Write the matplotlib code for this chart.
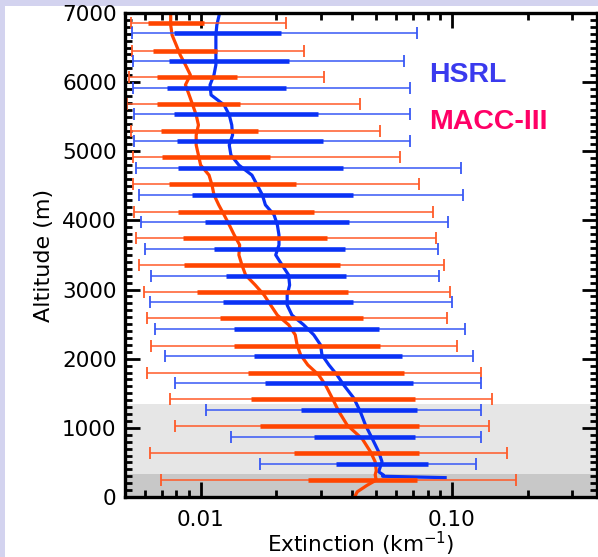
import matplotlib
matplotlib.use('Agg')
import matplotlib.pyplot as plt
from matplotlib.patches import Rectangle
from matplotlib.ticker import FixedLocator, LogLocator, NullFormatter, MultipleLocator

# ---------------- data ----------------
# MACC-III mean extinction profile (altitude m, extinction km^-1)
macc_alt = [0, 75, 170, 245, 320, 380, 510, 655, 840, 1040, 1235, 1430, 1620, 1765,
            1910, 2055, 2200, 2345, 2490, 2630, 2775, 2920, 3065, 3210, 3355, 3500,
            3645, 3790, 3935, 4080, 4225, 4370, 4510, 4655, 4800, 4945, 5090, 5235,
            5380, 5525, 5670, 5815, 5960, 6105, 6250, 6390, 6535, 6680, 6825, 7000]
macc_ext = [0.041, 0.042, 0.046, 0.050, 0.0495, 0.050, 0.0495, 0.0474, 0.044, 0.0383,
            0.0355, 0.0334, 0.0314, 0.0295, 0.0267, 0.0250, 0.0242, 0.0238, 0.0224,
            0.0202, 0.0190, 0.0179, 0.0165, 0.0151, 0.0146, 0.0142, 0.0143, 0.0136,
            0.0130, 0.0124, 0.0118, 0.0113, 0.0111, 0.0108, 0.0100, 0.0098, 0.0096,
            0.0096, 0.0098, 0.0096, 0.0093, 0.0090, 0.0087, 0.0091, 0.0087, 0.0083,
            0.0080, 0.0077, 0.0076, 0.0076]

# HSRL mean extinction profile
hsrl_alt = [280, 300, 318, 365, 510, 655, 850, 1040, 1235, 1430, 1620, 1765, 1910, 2055,
            2200, 2345, 2490, 2630, 2775, 2920, 3065, 3210, 3355, 3500, 3645, 3790,
            3935, 4080, 4225, 4370, 4510, 4655, 4800, 4945, 5090, 5235, 5380, 5525,
            5670, 5815, 5960, 6105, 6250, 6390, 6535, 6680, 6825, 7000]
hsrl_ext = [0.094, 0.053, 0.0534, 0.0511, 0.0527, 0.0511, 0.0481, 0.0453, 0.0432, 0.0407,
            0.0371, 0.0349, 0.0324, 0.0304, 0.0300, 0.0282, 0.0257, 0.0231, 0.0221,
            0.0221, 0.0226, 0.0224, 0.0211, 0.0199, 0.0205, 0.0205, 0.0202, 0.0196,
            0.0181, 0.0176, 0.0168, 0.0160, 0.0142, 0.0132, 0.0130, 0.0134, 0.0133,
            0.0130, 0.0124, 0.0110, 0.0109, 0.0113, 0.0115, 0.0115, 0.0115, 0.0115,
            0.0116, 0.0119]

# MACC-III binned statistics (whisker low, box low, box high, whisker high)
macc_bin_alt = [250, 635, 1025, 1415, 1800, 2190, 2585, 2970, 3355, 3740, 4125, 4525,
                4920, 5300, 5685, 6070, 6455, 6850]
macc_wlo = [0.00694, 0.00627, 0.00788, 0.00755, 0.00610, 0.00637, 0.00614, 0.00595,
            0.00569, 0.00552, 0.00543, 0.00538, 0.00538, 0.00527, 0.00508, 0.00518,
            0.00535, 0.00527]
macc_blo = [0.0268, 0.0235, 0.0172, 0.0159, 0.0154, 0.0136, 0.0119, 0.00964, 0.00858,
            0.00854, 0.00813, 0.00748, 0.00705, 0.00698, 0.00669, 0.00669, 0.00649,
            0.00619]
macc_bhi = [0.0726, 0.0737, 0.0737, 0.0715, 0.0642, 0.0519, 0.0443, 0.0386, 0.0360,
            0.0319, 0.0282, 0.0239, 0.0189, 0.0169, 0.0144, 0.0139, 0.0116, 0.0103]
macc_whi = [0.180, 0.165, 0.141, 0.144, 0.130, 0.105, 0.0955, 0.0985, 0.0926, 0.0864,
            0.0840, 0.0742, 0.0623, 0.0519, 0.0430, 0.0311, 0.0257, 0.0218]

# HSRL binned statistics
hsrl_bin_alt = [477, 872, 1258, 1644, 2044, 2430, 2816, 3201, 3587, 3982, 4368, 4763,
                5149, 5535, 5920, 6306, 6706]
hsrl_wlo = [0.0172, 0.0132, 0.0105, 0.00788, 0.00722, 0.00656, 0.00629, 0.00637,
            0.00601, 0.00578, 0.00569, 0.00552, 0.00543, 0.00543, 0.00540, 0.00540,
            0.00535]
hsrl_blo = [0.0347, 0.0282, 0.0250, 0.0180, 0.0163, 0.0136, 0.0123, 0.0126, 0.0113,
            0.0104, 0.00927, 0.00816, 0.00803, 0.00783, 0.00737, 0.00748, 0.00783]
hsrl_bhi = [0.0800, 0.0715, 0.0726, 0.0697, 0.0633, 0.0511, 0.0403, 0.0379, 0.0374,
            0.0391, 0.0403, 0.0369, 0.0307, 0.0292, 0.0218, 0.0224, 0.0208]
hsrl_whi = [0.125, 0.130, 0.130, 0.130, 0.121, 0.113, 0.100, 0.0885, 0.0877, 0.0969,
            0.111, 0.109, 0.0683, 0.0683, 0.0683, 0.0642, 0.0726]

# shaded altitude layers (m)
layer_dark = (0, 330)
layer_light = (330, 1350)

x_ticks = [0.01, 0.1]
x_ticklabels = ['0.01', '0.10']
y_ticks = [0, 1000, 2000, 3000, 4000, 5000, 6000, 7000]

# ---------------- styling ----------------
ORANGE = '#ff4500'
ORANGE_THIN = '#ff5a28'
BLUE = '#0a32f5'
BLUE_THIN = '#3858f5'

W, H = 598, 557
fig = plt.figure(figsize=(W / 100, H / 100), dpi=100)
fig.patch.set_facecolor('#d3d3ef')
fig.patches.append(Rectangle((5 / W, 0), (W - 5) / W, (H - 6) / H,
                             transform=fig.transFigure, facecolor='white',
                             edgecolor='none', zorder=-10))

ax = fig.add_axes([125 / W, (H - 497) / H, (597 - 125) / W, (497 - 13) / H])
ax.set_zorder(1)
ax.set_facecolor('white')
ax.set_xscale('log')
ax.set_xlim(0.005, 0.378)
ax.set_ylim(0, 7000)

ax.axhspan(*layer_dark, color='#c8c8c8', zorder=0.5, lw=0)
ax.axhspan(*layer_light, color='#e6e6e6', zorder=0.5, lw=0)

# profile lines
ax.plot(hsrl_ext, hsrl_alt, color=BLUE, lw=2.3, zorder=2)
ax.plot(macc_ext, macc_alt, color=ORANGE, lw=2.3, zorder=2)


def draw_bars(alt, wlo, blo, bhi, whi, c_thick, c_thin):
    ax.hlines(alt, wlo, whi, color=c_thin, lw=1.1, zorder=3)
    ax.plot(wlo, alt, ls='none', marker='|', ms=8, mew=1.3, color=c_thin, zorder=3)
    ax.plot(whi, alt, ls='none', marker='|', ms=8, mew=1.3, color=c_thin, zorder=3)
    ax.hlines(alt, blo, bhi, color=c_thick, lw=3.3, zorder=3.5)


draw_bars(macc_bin_alt, macc_wlo, macc_blo, macc_bhi, macc_whi, ORANGE, ORANGE_THIN)
draw_bars(hsrl_bin_alt, hsrl_wlo, hsrl_blo, hsrl_bhi, hsrl_whi, BLUE, BLUE_THIN)

# axes / ticks
for s in ax.spines.values():
    s.set_linewidth(2.4)
    s.set_zorder(5)
ax.xaxis.set_major_locator(FixedLocator(x_ticks))
ax.set_xticklabels(x_ticklabels)
ax.xaxis.set_minor_locator(LogLocator(base=10, subs=range(2, 10), numticks=20))
ax.xaxis.set_minor_formatter(NullFormatter())
ax.yaxis.set_major_locator(FixedLocator(y_ticks))
ax.yaxis.set_minor_locator(MultipleLocator(100))
ax.tick_params(which='both', direction='in', top=True, right=True, width=2.0,
               labelsize=15.5, color='black')
ax.tick_params(which='major', length=10.5)
ax.tick_params(which='minor', length=5)
ax.tick_params(axis='x', which='major', pad=9)
ax.tick_params(axis='y', which='major', pad=6)

ax.set_xlabel('Extinction (km$^{-1}$)', fontsize=15.5, labelpad=0)
ax.set_ylabel('Altitude (m)', fontsize=16, labelpad=6)

ax.text(0.645, 0.872, 'HSRL', transform=ax.transAxes, color='#3a3aee',
        fontsize=20.5, fontweight='bold', family='Liberation Sans', va='center')
ax.text(0.645, 0.775, 'MACC-III', transform=ax.transAxes, color='#ff0066',
        fontsize=20.5, fontweight='bold', family='Liberation Sans', va='center')

fig.savefig('out.png', dpi=100, facecolor=fig.get_facecolor())
